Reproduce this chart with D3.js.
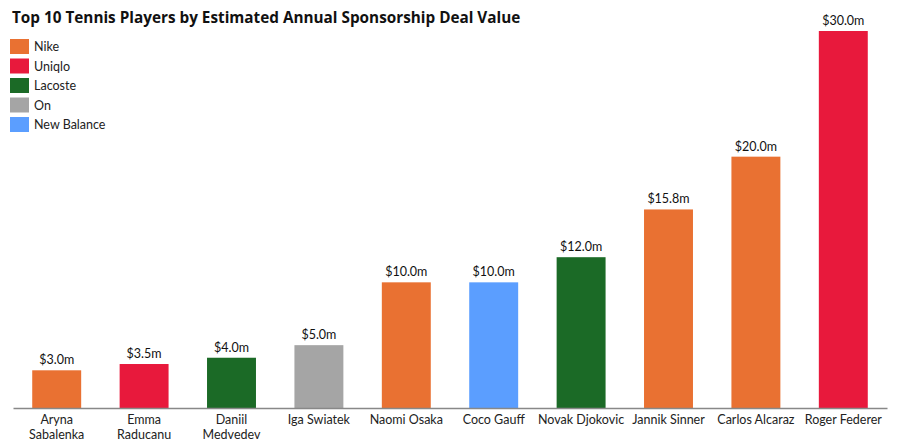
<!DOCTYPE html>
<html>
<head>
<meta charset="utf-8">
<script src="https://cdn.jsdelivr.net/npm/d3@7"></script>
<style>
  body { margin: 0; background: #fff; }
  svg { display: block; font-family: Lato, "Open Sans", sans-serif; }
</style>
</head>
<body>
<svg width="903" height="447"></svg>
<script>
// chart data
const players = ["Aryna Sabalenka", "Emma Raducanu", "Daniil Medvedev", "Iga Swiatek", "Naomi Osaka",
  "Coco Gauff", "Novak Djokovic", "Jannik Sinner", "Carlos Alcaraz", "Roger Federer"];
const tickLines = [["Aryna", "Sabalenka"], ["Emma", "Raducanu"], ["Daniil", "Medvedev"], ["Iga Swiatek"],
  ["Naomi Osaka"], ["Coco Gauff"], ["Novak Djokovic"], ["Jannik Sinner"], ["Carlos Alcaraz"], ["Roger Federer"]];
const values = [3.0, 3.5, 4.0, 5.0, 10.0, 10.0, 12.0, 15.8, 20.0, 30.0];
const sponsors = ["Nike", "Uniqlo", "Lacoste", "On", "Nike", "New Balance", "Lacoste", "Nike", "Nike", "Uniqlo"];
const brands = ["Nike", "Uniqlo", "Lacoste", "On", "New Balance"];
const brandColors = ["#E97132", "#E8193C", "#1B6A26", "#A5A5A5", "#5B9EFF"];

const svg = d3.select("svg");
const color = d3.scaleOrdinal().domain(brands).range(brandColors);

const x = d3.scaleBand().domain(players).range([13, 887]).paddingInner(0.44).paddingOuter(0.22);
const y = d3.scaleLinear().domain([0, 30]).range([408, 31]);

// title
svg.append("text")
  .attr("x", 12)
  .attr("y", 23)
  .attr("font-family", "'Open Sans', sans-serif")
  .attr("font-size", 15.3)
  .attr("font-weight", "bold")
  .attr("fill", "#111")
  .text("Top 10 Tennis Players by Estimated Annual Sponsorship Deal Value");

// legend
const legend = svg.append("g");
brands.forEach((b, i) => {
  const g = legend.append("g").attr("transform", `translate(10,${39 + i * 19.5})`);
  g.append("rect").attr("width", 19).attr("height", 15).attr("fill", color(b));
  g.append("text").attr("x", 24).attr("y", 12).attr("font-size", 12.5).attr("fill", "#222").text(b);
});

// bars
svg.selectAll(".bar")
  .data(players)
  .enter().append("rect")
  .attr("class", "bar")
  .attr("x", d => x(d))
  .attr("y", (d, i) => y(values[i]))
  .attr("width", x.bandwidth())
  .attr("height", (d, i) => y(0) - y(values[i]))
  .attr("fill", (d, i) => color(sponsors[i]));

// value labels
svg.selectAll(".val")
  .data(players)
  .enter().append("text")
  .attr("class", "val")
  .attr("x", d => x(d) + x.bandwidth() / 2)
  .attr("y", (d, i) => y(values[i]) - 6)
  .attr("text-anchor", "middle")
  .attr("font-size", 12.5)
  .attr("fill", "#111")
  .text((d, i) => `$${values[i].toFixed(1)}m`);

// x axis
const xAxis = svg.append("g")
  .attr("transform", `translate(0,${y(0)})`)
  .call(d3.axisBottom(x).tickSize(0).tickFormat(""));
xAxis.select(".domain").attr("stroke", "#888").attr("stroke-width", 1.5);

svg.selectAll(".tick-label")
  .data(players)
  .enter().append("text")
  .attr("class", "tick-label")
  .attr("x", d => x(d) + x.bandwidth() / 2)
  .attr("y", 424)
  .attr("text-anchor", "middle")
  .attr("font-size", 12.5)
  .attr("fill", "#222")
  .each(function(d, i) {
    const t = d3.select(this);
    tickLines[i].forEach((line, j) => {
      t.append("tspan").attr("x", x(d) + x.bandwidth() / 2).attr("dy", j === 0 ? 0 : 14.5).text(line);
    });
  });
</script>
</body>
</html>
